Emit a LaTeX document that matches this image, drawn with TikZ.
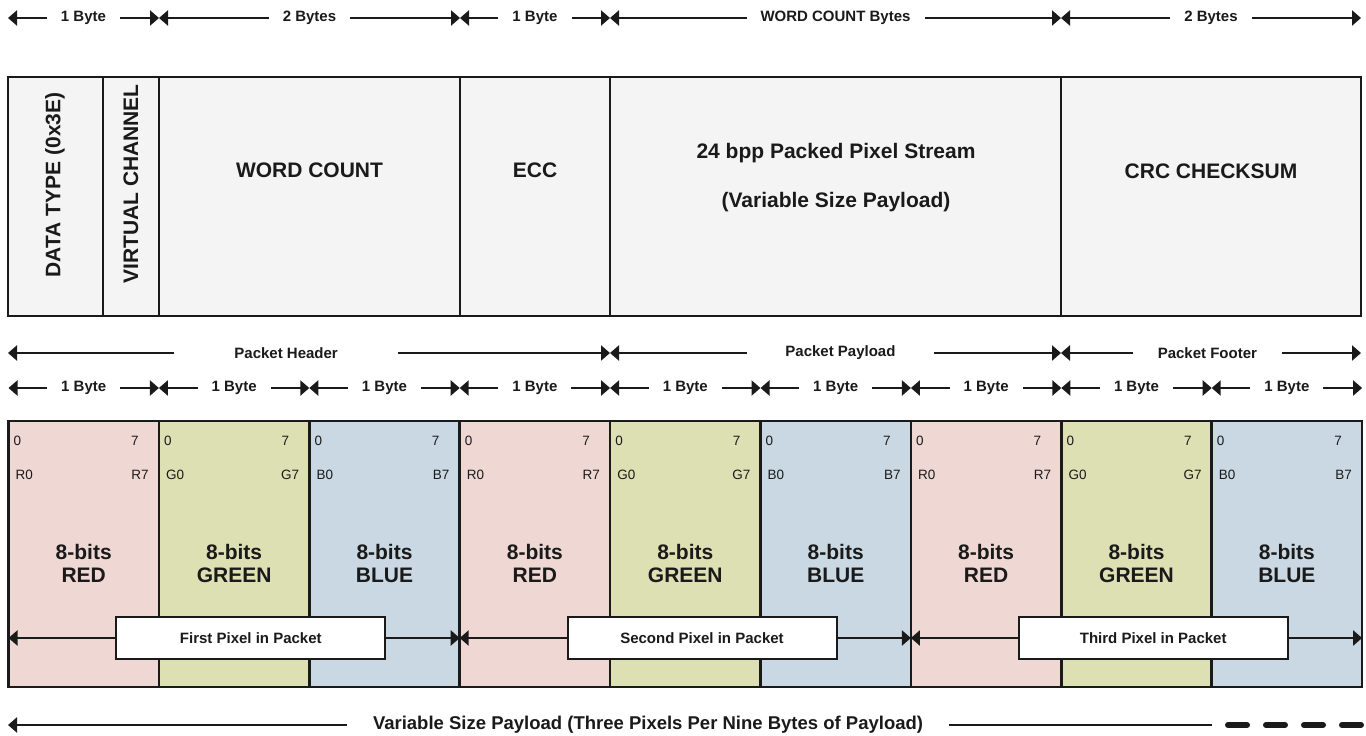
\documentclass[tikz,border=0pt]{standalone}
\usepackage{fontspec}
\setmainfont{Liberation Sans}
\usetikzlibrary{arrows.meta,calc}
\definecolor{ink}{HTML}{1A1A1A}
\definecolor{hdrfill}{HTML}{F4F4F4}
\definecolor{redfill}{HTML}{EFD7D4}
\definecolor{grnfill}{HTML}{DCE0B3}
\definecolor{blufill}{HTML}{C9D8E2}

\begin{document}
\begin{tikzpicture}
    [   x = 1pt, y = -1pt
    ,   > = {Triangle[length=9pt,width=15pt]}
    ,   every node/.style = {text=ink}
    ,   span/.style = {draw=ink, line width=2.5pt, <->}
    ,   spanlbl/.style =
        {   fill = white
        ,   inner xsep = 14pt
        ,   inner ysep = 1pt
        ,   font = \fontsize{15}{18}\selectfont\bfseries
        }
    ,   field/.style = {draw=ink, line width=2.5pt}
    ,   bigtxt/.style =
        {   align = center
        ,   inner sep = 0pt
        ,   font = \fontsize{21}{23}\selectfont\bfseries
        }
    ,   bit/.style = {inner sep=0pt, font=\fontsize{13.5}{16}\selectfont}
    ,   pixbox/.style =
        {   draw = ink
        ,   line width = 2pt
        ,   fill = white
        ,   minimum width = 269pt
        ,   minimum height = 42pt
        ,   font = \fontsize{15}{18}\selectfont\bfseries
        }
    ]
    \useasboundingbox (0,0) rectangle (1366,736);

    % byte counts above the packet
    \foreach\x [count=\i] in {8,159,460,610,1061,1361}
    {   \coordinate (top\i) at (\x,18);
    }
    \foreach\a/\b/\t in {1/2/1 Byte,2/3/2 Bytes,3/4/1 Byte,4/5/WORD COUNT Bytes,5/6/2 Bytes}
    {   \draw[span] (top\a) -- node[spanlbl] (toplbl\a) {\t} (top\b);
    }

    % packet fields
    \foreach\a/\b in {8/103,103/159,159/460,460/610,610/1061,1061/1361}
    {   \draw[field, fill=hdrfill] (\a,77) rectangle (\b,316);
    }
    \node[bigtxt, rotate=90] (dtype) at (55,185) {DATA TYPE (0x3E)};
    \node[bigtxt, rotate=90] (vchan) at (131,184) {VIRTUAL CHANNEL};
    \node[bigtxt] (wcount) at (309.5,170) {WORD COUNT};
    \node[bigtxt] (ecc) at (535,170) {ECC};
    \node[bigtxt] (stream) at (836,153) {24 bpp Packed Pixel Stream};
    \node[bigtxt] (varsize) at (836,202) {(Variable Size Payload)};
    \node[bigtxt] (crc) at (1211,171) {CRC CHECKSUM};

    % header / payload / footer
    \coordinate (pk0) at (8,353);
    \coordinate (pk1) at (610,353);
    \coordinate (pk2) at (1061,353);
    \coordinate (pk3) at (1361,353);
    \draw[span] (pk0) -- node[spanlbl, pos=0.462, inner xsep=60pt] (hdr) {Packet Header} (pk1);
    \draw[span] (pk1) -- node[spanlbl, pos=0.511, inner xsep=38pt] (pay) {Packet Payload} (pk2);
    \draw[span] (pk2) -- node[spanlbl, pos=0.488, inner xsep=25pt] (ftr) {Packet Footer} (pk3);

    % single bytes
    \foreach\i in {0,...,9}
    {   \coordinate (byte\i) at (8.5+150.4*\i,388);
    }
    \foreach\i [evaluate=\i as \j using int(\i+1)] in {0,...,8}
    {   \draw[span] (byte\i) -- node[spanlbl] (bytelbl\i) {1 Byte} (byte\j);
    }

    % pixel cells
    \foreach\p in {0,1,2}
    {   \foreach\c/\col/\ch/\word in {0/redfill/R/RED,1/grnfill/G/GREEN,2/blufill/B/BLUE}
        {   \pgfmathsetmacro\L{8.5+150.4*(3*\p+\c)}
            \pgfmathsetmacro\R{\L+150.4}
            \draw[field, fill=\col] (\L,421) rectangle (\R,687);
            \node[bit, anchor=west] (lo\p\c) at (\L+5,441) {0};
            \node[bit, anchor=east] (hi\p\c) at (\R-20,441) {7};
            \node[bit, anchor=west] (lon\p\c) at (\L+7,475) {\ch0};
            \node[bit, anchor=east] (hin\p\c) at (\R-10,475) {\ch7};
            \node[bigtxt] (col\p\c) at (\L+75.2,563.5) {8-bits\\\word};
        }
    }

    % pixel spans
    \foreach\p/\nm in {0/First,1/Second,2/Third}
    {   \coordinate (pxa\p) at (8.5+451.2*\p,638);
        \coordinate (pxb\p) at (8.5+451.2*\p+451.2,638);
        \draw[span] (pxa\p) -- node[pixbox, pos=0.537] (pix\p) {\nm\ Pixel in Packet} (pxb\p);
    }

    % variable size payload
    \coordinate (vs0) at (8,725);
    \coordinate (vs1) at (1212,725);
    \coordinate (vs2) at (1364,725);
    \draw[draw=ink, line width=2.5pt, <-] (vs0) -- node[spanlbl, pos=0.5316, inner xsep=26pt, font=\fontsize{18.5}{22}\selectfont\bfseries] (vslbl) {Variable Size Payload (Three Pixels Per Nine Bytes of Payload)} (vs1);
    \draw[draw=ink, line width=6pt, line cap=round, dash pattern=on 19pt off 19pt] ($(vs1)+(16,0)$) -- (vs2);

\end{tikzpicture}
\end{document}
